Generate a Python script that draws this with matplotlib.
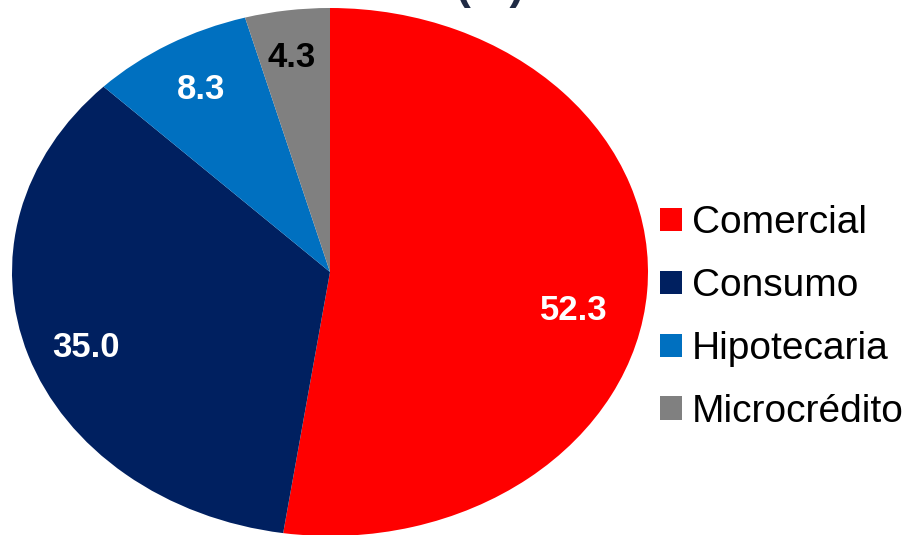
import numpy as np
import matplotlib.pyplot as plt

# cartera por tipo de crédito
categorias = ['Comercial', 'Consumo', 'Hipotecaria', 'Microcrédito']
valores = [52.3, 35.0, 8.3, 4.3]
colores = ['#FF0000', '#002060', '#0070C0', '#808080']
color_texto = ['white', 'white', 'white', 'black']

plt.rcParams['font.family'] = ['Liberation Sans', 'DejaVu Sans']

fig = plt.figure(figsize=(9.16, 5.35), dpi=100)
ax = fig.add_axes([0, 0, 1, 1])

wedges, _ = ax.pie(valores, colors=colores, startangle=90, counterclock=False,
                   radius=1, center=(0, 0),
                   wedgeprops=dict(linewidth=0))
ax.set_aspect('auto')
# stretch the pie into an ellipse (wider than tall), cut at the bottom
ax.set_xlim(-330 / 318, (916 - 330) / 318)
ax.set_ylim((272 - 535) / 264, 272 / 264)
ax.axis('off')

# value labels inside each slice
ajuste_ang = [-6.5, 2.0, 0.0, 0.8]
dist = [0.78, 0.82, 0.80, 0.82]
for w, v, c, da, r in zip(wedges, valores, color_texto, ajuste_ang, dist):
    ang = np.deg2rad((w.theta1 + w.theta2) / 2 + da)
    ax.text(r * np.cos(ang), r * np.sin(ang), f'{v:.1f}', color=c,
            fontsize=25, fontweight='bold', ha='center', va='center')

ax.legend(wedges, categorias, loc='upper left',
          bbox_to_anchor=(641 / 916, 1 - 186 / 535), frameon=False,
          fontsize=28, handlelength=0.55, handleheight=0.55,
          handletextpad=0.25, labelspacing=0.69, borderpad=0)

# title, only its lower edge fits in the figure
fig.text(490 / 916, 1 - 8 / 535, '(%)', color='#1F2A44', fontsize=32,
         fontweight='bold', ha='center', va='bottom')

fig.savefig('out.png', dpi=100)
